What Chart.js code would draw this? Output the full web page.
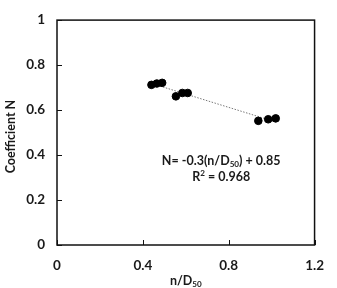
<!DOCTYPE html>
<html><head><meta charset="utf-8">
<script src="https://cdn.jsdelivr.net/npm/chart.js@4/dist/chart.umd.min.js"></script>
<style>html,body{margin:0;padding:0;background:#fff}#wrap{width:337px;height:288px}</style>
</head><body><div id="wrap"><canvas id="c"></canvas></div>
<script>
const xValues = [0.44, 0.465, 0.49, 0.554, 0.584, 0.609, 0.938, 0.984, 1.019];
const nValues = [0.712, 0.718, 0.721, 0.661, 0.676, 0.676, 0.552, 0.559, 0.563];
const xTicks = [0, 0.4, 0.8, 1.2];
const yTicks = [0, 0.2, 0.4, 0.6, 0.8, 1];
const equationText = [["N= -0.3(n/D", ""], ["50", "sub"], [") + 0.85", ""]];
const r2Text = [["R", ""], ["2", "sup"], [" = 0.968", ""]];
const xTitle = [["n/D", ""], ["50", "sub"]];
const yTitle = "Coefficient N";

const FONT = "Lato, 'Open Sans', sans-serif";
const INK = '#1a1a1a';

// trendline from least squares of the data
const n = xValues.length;
const mx = xValues.reduce((a,b)=>a+b,0)/n, my = nValues.reduce((a,b)=>a+b,0)/n;
let sxy=0, sxx=0;
for (let i=0;i<n;i++){sxy+=(xValues[i]-mx)*(nValues[i]-my);sxx+=(xValues[i]-mx)**2;}
const slope = sxy/sxx, icpt = my - slope*mx;
const xmin = Math.min(...xValues), xmax = Math.max(...xValues);

function drawRich(ctx, parts, cx, cy, size){
  const segs = parts.map(([t,k])=>{
    const s = k ? size*0.65 : size;
    ctx.font = `bold ${s}px ${FONT}`;
    return {t,k,s,w:ctx.measureText(t).width};
  });
  const total = segs.reduce((a,b)=>a+b.w,0);
  let x = cx - total/2;
  ctx.textAlign='left'; ctx.textBaseline='middle'; ctx.fillStyle=INK;
  for (const g of segs){
    ctx.font = `bold ${g.s}px ${FONT}`;
    const dy = g.k==='sub' ? size*0.3 : g.k==='sup' ? -size*0.3 : 0;
    ctx.fillText(g.t, x, cy+dy);
    x += g.w;
  }
}

const deco = {
  id:'deco',
  afterDraw(chart){
    const ctx = chart.ctx, a = chart.chartArea, xs = chart.scales.x, ys = chart.scales.y;
    ctx.save();
    ctx.strokeStyle='#111'; ctx.lineWidth=1.5;
    ctx.strokeRect(a.left, a.top, a.right-a.left, a.bottom-a.top);
    ctx.lineWidth=1;
    ctx.beginPath();
    for (const v of xTicks){ const p=Math.round(xs.getPixelForValue(v))+0.5; ctx.moveTo(p,a.bottom); ctx.lineTo(p,a.bottom-5); }
    for (const v of yTicks){ const p=Math.round(ys.getPixelForValue(v))+0.5; ctx.moveTo(a.left,p); ctx.lineTo(a.left+5,p); }
    ctx.stroke();
    drawRich(ctx, equationText, xs.getPixelForValue(0.765), ys.getPixelForValue(0.375), 12.5);
    drawRich(ctx, r2Text, xs.getPixelForValue(0.765), ys.getPixelForValue(0.302), 12.5);
    drawRich(ctx, xTitle, (a.left+a.right)/2, 281, 12.5);
    ctx.save();
    ctx.translate(11, (a.top+a.bottom)/2 + 4);
    ctx.rotate(-Math.PI/2);
    ctx.font = `bold 12.5px ${FONT}`; ctx.textAlign='center'; ctx.textBaseline='middle'; ctx.fillStyle=INK;
    ctx.fillText(yTitle, 0, 0);
    ctx.restore();
    ctx.restore();
  }
};

new Chart(document.getElementById('c'), {
  type:'scatter',
  data:{datasets:[
    {label:'trend', type:'line', data:[{x:xmin,y:slope*xmin+icpt},{x:xmax,y:slope*xmax+icpt}],
     borderColor:'#777', borderWidth:1, borderDash:[1.5,1.5], pointRadius:0, fill:false, order:2},
    {label:'N', data:xValues.map((x,i)=>({x, y:nValues[i]})),
     backgroundColor:'#000', borderColor:'#000', pointRadius:3.8, pointHoverRadius:3.8, order:1}
  ]},
  options:{
    responsive:true, maintainAspectRatio:false, animation:false,
    layout:{padding:{top:15,right:10,left:0,bottom:0}},
    plugins:{legend:{display:false}, tooltip:{enabled:false}},
    scales:{
      x:{type:'linear', min:0, max:1.2,
        afterBuildTicks(s){s.ticks = xTicks.map(v=>({value:v}));},
        afterFit(s){s.height = 43;},
        grid:{display:false, drawTicks:false}, border:{display:false},
        ticks:{padding:13, color:INK, font:{family:FONT, size:13.5, weight:'bold'}, maxRotation:0,
          callback:(v)=>String(v)}},
      y:{type:'linear', min:0, max:1,
        afterBuildTicks(s){s.ticks = yTicks.map(v=>({value:v}));},
        afterFit(s){s.width = 57;},
        grid:{display:false, drawTicks:false}, border:{display:false},
        ticks:{padding:12, color:INK, font:{family:FONT, size:13.5, weight:'bold'},
          callback:(v)=>String(v)}}
    }
  },
  plugins:[deco]
});
</script></body></html>
